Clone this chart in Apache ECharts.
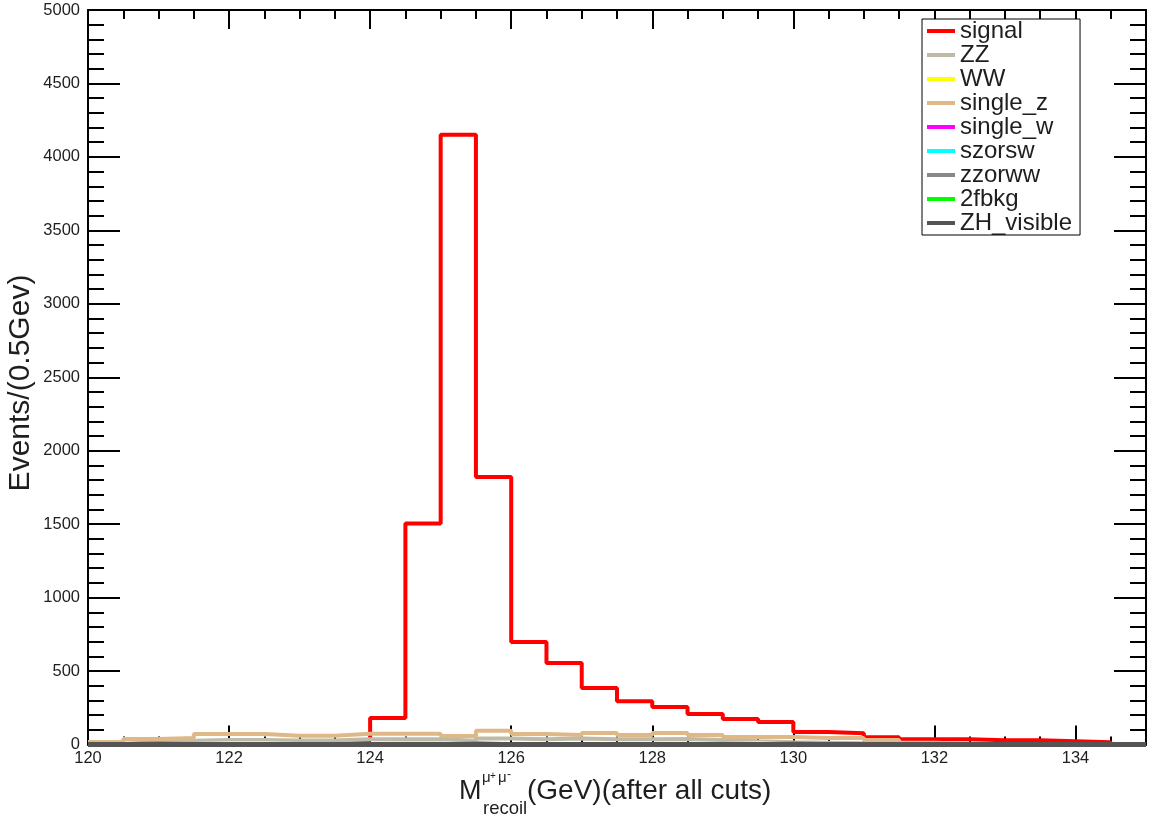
<!DOCTYPE html>
<html>
<head>
<meta charset="utf-8">
<script src="https://cdn.jsdelivr.net/npm/echarts@6/dist/echarts.min.js"></script>
<style>
html,body{margin:0;padding:0;background:#fff;}
#chart{width:1152px;height:816px;}
</style>
</head>
<body>
<div id="chart"></div>
<script>
// ---- data (0.5 GeV bins, low edges) ----
const binStarts = [120,120.5,121,121.5,122,122.5,123,123.5,124,124.5,125,125.5,126,126.5,127,127.5,128,128.5,129,129.5,130,130.5,131,131.5,132,132.5,133,133.5,134,134.5];
const xMax = 135;
const seriesNames = ['signal','ZZ','WW','single_z','single_w','szorsw','zzorww','2fbkg','ZH_visible'];
const signal     = [0,0,3,5,5,18,18,30,180,1505,4150,1821,698,555,385,295,255,208,174,153,85,76,49,35,35,29,29,22,15,0];
const zz         = [5,15,25,30,30,28,28,35,35,35,25,40,35,40,35,35,38,30,22,15,12,8,5,3,2,1,1,0,0,0];
const ww         = [2,2,3,10,10,3,3,3,10,10,3,3,3,3,3,3,3,3,10,3,2,1,1,0,0,0,0,0,0,0];
const singleZ    = [17,37,45,72,72,60,60,73,73,73,58,94,72,65,79,65,79,65,51,51,45,45,31,12,5,3,2,1,1,1];
const singleW    = [0,0,0,0,0,0,0,0,0,0,0,0,0,0,0,0,0,0,0,0,0,0,0,0,0,0,0,0,0,0];
const szorsw     = [0,0,0,0,0,0,0,0,0,0,0,0,0,0,0,0,0,0,0,0,0,0,0,0,0,0,0,0,0,0];
const zzorww     = [0,0,0,0,0,0,0,0,0,0,0,0,0,0,0,0,0,0,0,0,0,0,0,0,0,0,0,0,0,0];
const twoFbkg    = [2,11,2,2,2,2,2,2,2,2,11,2,2,2,2,2,2,2,2,11,2,1,1,0,0,0,0,0,0,0];
const zhVisible  = [0,0,0,0,0,0,0,0,0,0,0,0,0,0,0,0,0,0,0,0,0,0,0,0,0,0,0,0,0,0];
const seriesValues = [signal, zz, ww, singleZ, singleW, szorsw, zzorww, twoFbkg, zhVisible];
const seriesColors = ['#ff0000','#bdbba6','#ffff00','#deb887','#ff00ff','#00ffff','#888888','#00ff00','#555555'];
const yTickLabels = ['0','500','1000','1500','2000','2500','3000','3500','4000','4500','5000'];

function stepData(vals){
  const d = binStarts.map((x,i)=>[x, vals[i]]);
  d.push([xMax, vals[vals.length-1]]);
  return d;
}

const FONT = 'Liberation Sans, Arial, sans-serif';
const TXT = '#1e1e1e';

const series = seriesNames.map((name, i) => ({
  name: name,
  type: 'line',
  step: 'end',
  symbol: 'none',
  clip: false,
  data: stepData(seriesValues[i]),
  lineStyle: { color: seriesColors[i], width: name === 'ZH_visible' ? 5 : 4 },
  itemStyle: { color: seriesColors[i] },
  z: name === 'signal' ? 2 : (name === 'ZH_visible' ? 5 : 3),
  animation: false
}));

const tickStyle = { color: '#000', width: 2 };
function xAx(pos, interval, len, labels, line){
  return {
    type: 'value', position: pos, min: 120, max: xMax, interval: interval,
    axisLine: { show: line, onZero: false, lineStyle: tickStyle },
    axisTick: { show: true, inside: true, length: len, lineStyle: tickStyle },
    axisLabel: { show: labels, margin: 5, fontSize: 16.5, color: TXT, fontFamily: FONT, showMaxLabel: false },
    splitLine: { show: false }
  };
}
function yAx(pos, labels){
  return {
    type: 'value', position: pos, min: 0, max: 5000, interval: 500,
    axisLine: { show: true, onZero: false, lineStyle: tickStyle },
    axisTick: { show: true, inside: true, length: 32, lineStyle: tickStyle },
    minorTick: { show: true, splitNumber: 5, length: 16, lineStyle: tickStyle },
    axisLabel: { show: labels, margin: 8, fontSize: 16.5, color: TXT, fontFamily: FONT,
                 formatter: (v) => yTickLabels[Math.round(v/500)] },
    splitLine: { show: false }
  };
}

const chart = echarts.init(document.getElementById('chart'), null, { renderer: 'canvas' });
chart.setOption({
  backgroundColor: '#fff',
  animation: false,
  grid: { left: 88, right: 6, top: 10, bottom: 71.5, containLabel: false },
  xAxis: [
    xAx('bottom', 2, 19, true, true),
    xAx('bottom', 0.5, 8, false, false),
    xAx('top', 2, 19, false, true),
    xAx('top', 0.5, 9, false, false)
  ],
  yAxis: [ yAx('left', true), yAx('right', false) ],
  legend: {
    data: seriesNames,
    orient: 'vertical',
    left: 922, top: 19,
    icon: 'rect', itemWidth: 28, itemHeight: 4, itemGap: 0,
    padding: [0, 8, 0, 5],
    backgroundColor: '#fff', borderColor: '#000', borderWidth: 1,
    selectedMode: false,
    textStyle: { fontSize: 24, fontFamily: FONT, color: TXT, lineHeight: 21.9, padding: [0,0,0,0] }
  },
  series: series,
  graphic: [
    { type: 'text', x: 21, y: 383, rotation: Math.PI/2,
      style: { text: 'Events/(0.5Gev)', fontSize: 30, fontFamily: FONT, fill: TXT, align: 'center', verticalAlign: 'middle' } },
    { type: 'text', x: 459, y: 791.5,
      style: { text: 'M', fontSize: 27, fontFamily: FONT, fill: TXT, align: 'left', verticalAlign: 'middle' } },
    { type: 'text', x: 482, y: 778,
      style: { text: 'μ', fontSize: 15, fontFamily: FONT, fill: TXT, align: 'left', verticalAlign: 'middle' } },
    { type: 'text', x: 490, y: 776,
      style: { text: '+', fontSize: 10, fontFamily: FONT, fill: TXT, align: 'left', verticalAlign: 'middle' } },
    { type: 'text', x: 498, y: 778,
      style: { text: 'μ', fontSize: 15, fontFamily: FONT, fill: TXT, align: 'left', verticalAlign: 'middle' } },
    { type: 'text', x: 507, y: 775,
      style: { text: '-', fontSize: 12, fontFamily: FONT, fill: TXT, align: 'left', verticalAlign: 'middle' } },
    { type: 'text', x: 483, y: 808.5,
      style: { text: 'recoil', fontSize: 18.5, fontFamily: FONT, fill: TXT, align: 'left', verticalAlign: 'middle' } },
    { type: 'text', x: 527, y: 791.5,
      style: { text: '(GeV)(after all cuts)', fontSize: 28, fontFamily: FONT, fill: TXT, align: 'left', verticalAlign: 'middle' } }
  ]
});
</script>
</body>
</html>
